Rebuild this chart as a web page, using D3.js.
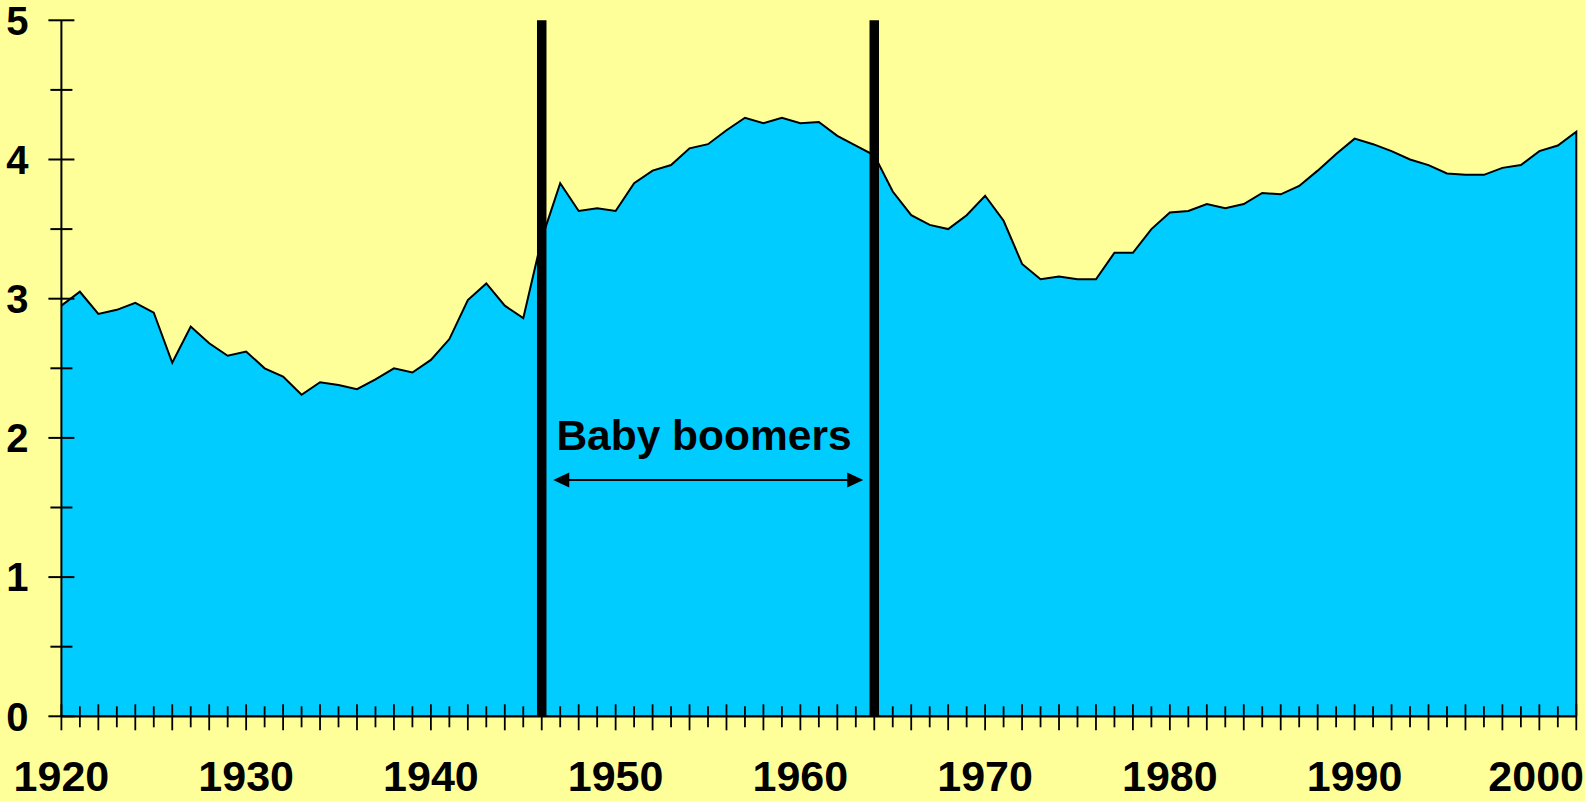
<!DOCTYPE html>
<html>
<head>
<meta charset="utf-8">
<script src="https://cdn.jsdelivr.net/npm/d3@7"></script>
<style>
  html, body { margin: 0; padding: 0; background: #FFFF99; }
  svg { display: block; }
  text { font-family: "Liberation Sans", Arial, sans-serif; font-weight: bold; fill: #000; }
</style>
</head>
<body>
<svg id="chart" width="1585" height="801"></svg>
<script>
// ---- data ----
const startYear = 1920;
const values = [
  2.95, 3.05, 2.89, 2.92, 2.97, 2.90, 2.54, 2.80, 2.68, 2.59,   // 1920-1929
  2.62, 2.50, 2.44, 2.31, 2.40, 2.38, 2.35, 2.42, 2.50, 2.47,   // 1930-1939
  2.56, 2.71, 2.99, 3.11, 2.95, 2.86, 3.43, 3.83, 3.63, 3.65,   // 1940-1949
  3.63, 3.83, 3.92, 3.96, 4.08, 4.11, 4.21, 4.30, 4.26, 4.30,   // 1950-1959
  4.26, 4.27, 4.17, 4.10, 4.03, 3.77, 3.60, 3.53, 3.50, 3.60,   // 1960-1969
  3.74, 3.56, 3.25, 3.14, 3.16, 3.14, 3.14, 3.33, 3.33, 3.50,   // 1970-1979
  3.62, 3.63, 3.68, 3.65, 3.68, 3.76, 3.75, 3.81, 3.92, 4.04,   // 1980-1989
  4.15, 4.11, 4.06, 4.00, 3.96, 3.90, 3.89, 3.89, 3.94, 3.96,   // 1990-1999
  4.06, 4.10, 4.20                                              // 2000-2002
];
const years = values.map((v, i) => startYear + i);
const xTickLabels = [1920, 1930, 1940, 1950, 1960, 1970, 1980, 1990, 2000];
const yTickLabels = [0, 1, 2, 3, 4, 5];
const yMinorTicks = [0.5, 1.5, 2.5, 3.5, 4.5];
const boomerYears = [1946, 1964];
const annotation = "Baby boomers";

// ---- layout ----
const W = 1585, H = 801;
const svg = d3.select("#chart");
const x = d3.scaleLinear().domain([1920, 2002]).range([61.4, 1576.3]);
const y = d3.scaleLinear().domain([0, 5]).range([716.3, 20.3]);

svg.append("rect").attr("width", W).attr("height", H).attr("fill", "#FFFF99");

const data = years.map((yr, i) => ({ yr, v: values[i] }));

// area fill
const area = d3.area().x(d => x(d.yr)).y0(y(0)).y1(d => y(d.v));
svg.append("path").datum(data).attr("d", area).attr("fill", "#00CCFF");

// outline: top line + right edge down to baseline
const last = data[data.length - 1];
const line = d3.line().x(d => x(d.yr)).y(d => y(d.v));
svg.append("path")
  .attr("d", line(data) + `L${x(last.yr)},${y(0)}`)
  .attr("fill", "none").attr("stroke", "#000").attr("stroke-width", 2)
  .attr("stroke-linejoin", "miter");

// baby boomer vertical bars
svg.selectAll(".boom").data(boomerYears).enter().append("line")
  .attr("x1", d => x(d)).attr("x2", d => x(d))
  .attr("y1", y(5)).attr("y2", y(0))
  .attr("stroke", "#000").attr("stroke-width", 9.5);

// annotation text
svg.append("text")
  .attr("x", (x(boomerYears[0]) + x(boomerYears[1])) / 2 - 4)
  .attr("y", 449.5)
  .attr("text-anchor", "middle")
  .attr("font-size", 42.5)
  .text(annotation);

// double arrow
const ay = 480;
const ax1 = x(boomerYears[0]) + 11.5, ax2 = x(boomerYears[1]) - 11;
svg.append("line").attr("x1", ax1 + 8).attr("x2", ax2 - 8).attr("y1", ay).attr("y2", ay)
  .attr("stroke", "#000").attr("stroke-width", 2);
svg.append("path")
  .attr("d", `M${ax1},${ay} L${ax1 + 16},${ay - 7.5} L${ax1 + 16},${ay + 7.5} Z`)
  .attr("fill", "#000");
svg.append("path")
  .attr("d", `M${ax2},${ay} L${ax2 - 16},${ay - 7.5} L${ax2 - 16},${ay + 7.5} Z`)
  .attr("fill", "#000");

// y axis
svg.append("line").attr("x1", x(1920)).attr("x2", x(1920)).attr("y1", y(5)).attr("y2", y(0))
  .attr("stroke", "#000").attr("stroke-width", 2);
svg.selectAll(".ymaj").data(yTickLabels).enter().append("line")
  .attr("x1", x(1920) - 13).attr("x2", x(1920) + 13)
  .attr("y1", d => y(d)).attr("y2", d => y(d))
  .attr("stroke", "#000").attr("stroke-width", 2);
svg.selectAll(".ymin").data(yMinorTicks).enter().append("line")
  .attr("x1", x(1920) - 11).attr("x2", x(1920) + 11)
  .attr("y1", d => y(d)).attr("y2", d => y(d))
  .attr("stroke", "#000").attr("stroke-width", 2);
svg.selectAll(".ylab").data(yTickLabels).enter().append("text")
  .attr("x", 28.5).attr("y", d => y(d) + 14.3)
  .attr("text-anchor", "end").attr("font-size", 40)
  .text(d => d);

// x axis
svg.append("line").attr("x1", x(1920)).attr("x2", x(2002)).attr("y1", y(0)).attr("y2", y(0))
  .attr("stroke", "#000").attr("stroke-width", 2.2);
svg.selectAll(".xt").data(years).enter().append("line")
  .attr("x1", d => x(d)).attr("x2", d => x(d))
  .attr("y1", d => (d % 2 === 0 ? y(0) - 12 : y(0) - 10))
  .attr("y2", d => (d % 2 === 0 ? y(0) + 14 : y(0) + 11))
  .attr("stroke", "#000").attr("stroke-width", 1.8);
svg.selectAll(".xlab").data(xTickLabels).enter().append("text")
  .attr("x", d => x(d)).attr("y", 790.5)
  .attr("text-anchor", "middle").attr("font-size", 43)
  .text(d => d)
  .each(function (d) {
    // keep label inside the picture
    const w = this.getComputedTextLength();
    const cx = Math.min(x(d), W - 1 - w / 2);
    d3.select(this).attr("x", cx);
  });
</script>
</body>
</html>
